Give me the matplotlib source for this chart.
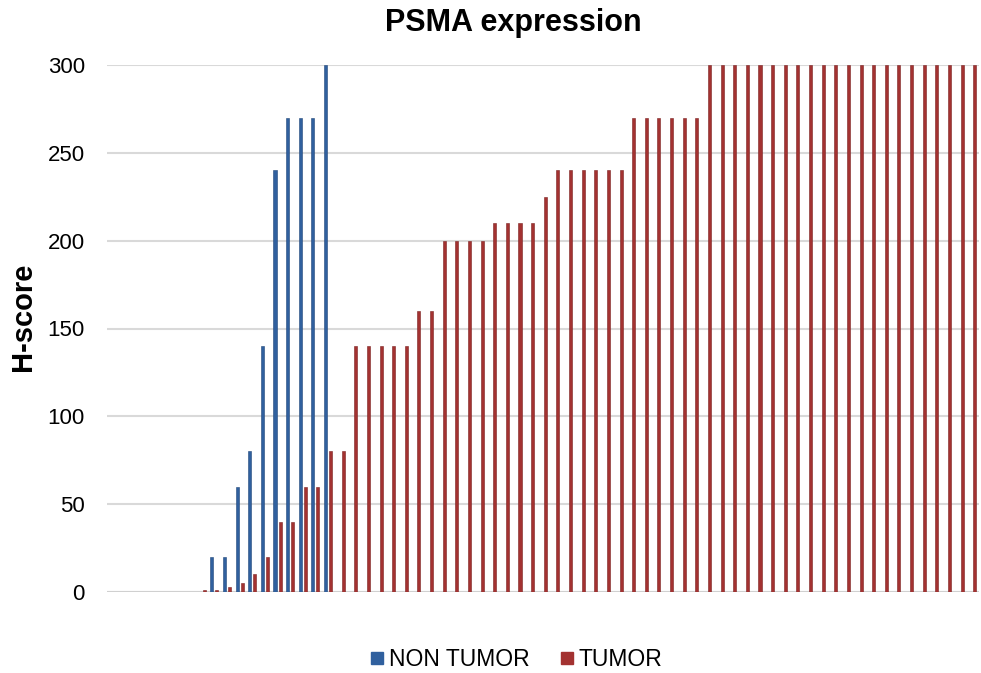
import matplotlib
matplotlib.use("Agg")
import matplotlib.pyplot as plt
import numpy as np
from matplotlib.lines import Line2D

plt.rcParams['font.family'] = ['Liberation Sans', 'DejaVu Sans']

title = "PSMA expression"
ylabel = "H-score"
series_names = ["NON TUMOR", "TUMOR"]

non_tumor = [0, 0, 0, 0, 0, 0, 0, 0, 20, 20, 60, 80, 140, 240, 270, 270, 270, 300,
             0, 0, 0, 0, 0, 0, 0, 0, 0, 0, 0, 0, 0, 0, 0, 0, 0, 0, 0, 0, 0, 0,
             0, 0, 0, 0, 0, 0, 0, 0, 0, 0, 0, 0, 0, 0, 0, 0, 0, 0, 0, 0, 0, 0,
             0, 0, 0, 0, 0, 0, 0]
tumor = [0, 0, 0, 0, 0, 0, 0, 1, 1, 3, 5, 10, 20, 40, 40, 60, 60, 80, 80,
         140, 140, 140, 140, 140, 160, 160, 200, 200, 200, 200,
         210, 210, 210, 210, 225, 240, 240, 240, 240, 240, 240,
         270, 270, 270, 270, 270, 270,
         300, 300, 300, 300, 300, 300, 300, 300, 300, 300, 300,
         300, 300, 300, 300, 300, 300, 300, 300, 300, 300, 300]
yticks = [0, 50, 100, 150, 200, 250, 300]

blue = "#30609E"
red = "#A33231"

fig = plt.figure(figsize=(9.81, 6.73), dpi=100)
ax = fig.add_axes([107/981, 1-592/673, 871.5/981, (592-65)/673])

x = np.arange(len(tumor))
w = 0.24
off = 0.2
ax.bar(x - off, non_tumor, width=w, color=blue, edgecolor="#22477a", linewidth=0.4, zorder=3)
ax.bar(x + off, tumor, width=w, color=red, edgecolor="#7c2222", linewidth=0.4, zorder=3)

ax.set_xlim(-0.5, len(tumor) - 0.5)
ax.set_ylim(0, 300)
ax.set_yticks(yticks)
ax.set_yticklabels([str(v) for v in yticks], fontsize=16)
ax.tick_params(axis='y', length=0, pad=16)
ax.set_xticks([])
for s in ax.spines.values():
    s.set_visible(False)
ax.yaxis.grid(True, color="#d9d9d9", linewidth=1.5, zorder=0)
ax.set_axisbelow(True)
ax.axhline(0, color="#d0d0d0", linewidth=1.5, zorder=2)

fig.text(513.5/981, 1-23/673, title, ha='center', va='center', fontsize=22, fontweight='bold')
fig.text(23/981, 1-317/673, ylabel, ha='center', va='center', rotation=90, fontsize=21, fontweight='bold')

handles = [Line2D([0], [0], marker='s', linestyle='none', markersize=8.3, markerfacecolor=blue, markeredgecolor=blue),
           Line2D([0], [0], marker='s', linestyle='none', markersize=8.3, markerfacecolor=red, markeredgecolor=red)]
fig.legend(handles, series_names, loc='center', bbox_to_anchor=(516/981, 1-660/673), ncol=2, frameon=False,
           fontsize=16.5, handletextpad=0.15, columnspacing=1.3, handlelength=0.7)

fig.savefig("out.png", dpi=100)
